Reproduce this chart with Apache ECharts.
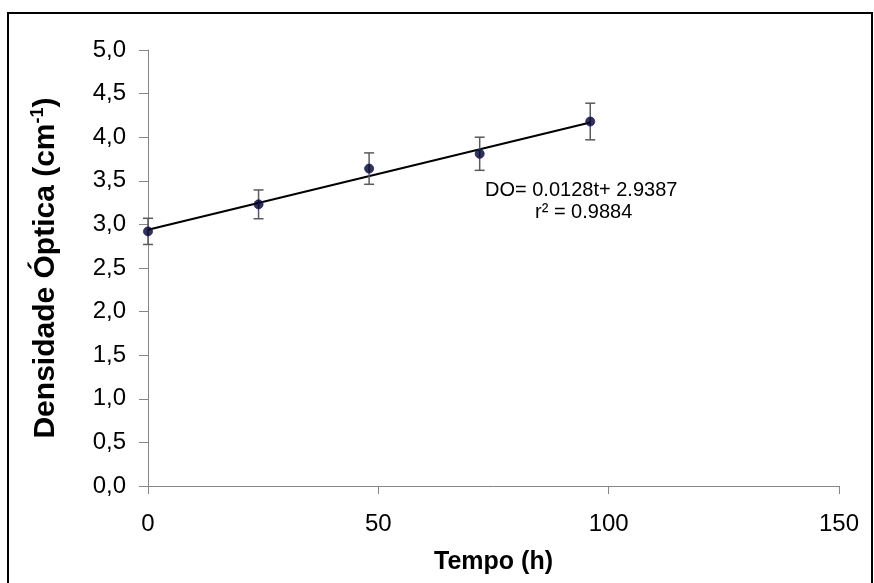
<!DOCTYPE html>
<html>
<head>
<meta charset="utf-8">
<script src="https://cdn.jsdelivr.net/npm/echarts@6/dist/echarts.min.js"></script>
<style>
  html, body { margin: 0; padding: 0; background: #fff; }
  #main { width: 874px; height: 583px; }
</style>
</head>
<body>
<div id="main"></div>
<script>
// dados
var tempo = [0, 24, 48, 72, 96];
var densidade = [2.92, 3.23, 3.64, 3.81, 4.18];
var erro = [0.15, 0.165, 0.18, 0.19, 0.21];
// regressao linear DO = a*t + b
var coefA = 0.0128;
var coefB = 2.9387;
var textoEq = 'DO= 0.0128t+ 2.9387';
var textoR2 = 'r² = 0.9884';

var pontos = tempo.map(function (t, i) { return [t, densidade[i]]; });
var barras = tempo.map(function (t, i) { return [t, densidade[i] - erro[i], densidade[i] + erro[i]]; });
var tFim = tempo[tempo.length - 1];
var reta = [[0, coefB], [tFim, coefA * tFim + coefB]];

var fonte = 'Arial, "Liberation Sans", sans-serif';
var myChart = echarts.init(document.getElementById('main'));

var option = {
  backgroundColor: '#fff',
  animation: false,
  grid: { left: 148, right: 35, top: 50, bottom: 97 },
  xAxis: {
    type: 'value',
    min: 0,
    max: 150,
    interval: 50,
    name: 'Tempo (h)',
    nameLocation: 'middle',
    nameGap: 64,
    nameTextStyle: { fontFamily: fonte, fontSize: 25, fontWeight: 'bold', color: '#000' },
    axisLine: { lineStyle: { color: '#868686', width: 1 } },
    axisTick: { inside: false, length: 8, lineStyle: { color: '#868686' } },
    axisLabel: { fontFamily: fonte, fontSize: 24, color: '#000', margin: 26 },
    splitLine: { show: false }
  },
  yAxis: {
    type: 'value',
    min: 0,
    max: 5,
    interval: 0.5,
    name: 'Densidade Óptica (cm{sup|-1})',
    nameLocation: 'middle',
    nameRotate: 90,
    nameGap: 86,
    nameTextStyle: {
      fontFamily: fonte, fontSize: 30, fontWeight: 'bold', color: '#000',
      rich: {
        sup: { fontFamily: fonte, fontSize: 18, fontWeight: 'bold', color: '#000', padding: [0, 0, 15, 0] }
      }
    },
    axisLine: { show: true, lineStyle: { color: '#868686', width: 1 } },
    axisTick: { show: true, inside: false, length: 9, lineStyle: { color: '#868686' } },
    axisLabel: {
      fontFamily: fonte, fontSize: 24, color: '#000', margin: 22,
      formatter: function (v) { return v.toFixed(1).replace('.', ','); }
    },
    splitLine: { show: false }
  },
  graphic: [
    {
      type: 'rect',
      shape: { x: 8, y: 13, width: 864, height: 620 },
      style: { fill: 'none', stroke: '#000', lineWidth: 2 },
      silent: true
    },
    {
      type: 'text',
      left: 485,
      top: 180,
      style: { text: textoEq, font: '20px ' + fonte, fill: '#000' }
    },
    {
      type: 'text',
      left: 535,
      top: 202,
      style: { text: textoR2, font: '20px ' + fonte, fill: '#000' }
    }
  ],
  series: [
    {
      name: 'Regressao',
      type: 'line',
      data: reta,
      symbol: 'none',
      lineStyle: { color: '#000', width: 2 },
      z: 2
    },
    {
      name: 'Erro',
      type: 'custom',
      data: barras,
      z: 3,
      renderItem: function (params, api) {
        var x = api.value(0);
        var baixo = api.coord([x, api.value(1)]);
        var alto = api.coord([x, api.value(2)]);
        var meia = 5;
        var estilo = { stroke: '#5a5a5a', lineWidth: 1.5 };
        return {
          type: 'group',
          children: [
            { type: 'line', shape: { x1: baixo[0], y1: baixo[1], x2: alto[0], y2: alto[1] }, style: estilo },
            { type: 'line', shape: { x1: alto[0] - meia, y1: alto[1], x2: alto[0] + meia, y2: alto[1] }, style: estilo },
            { type: 'line', shape: { x1: baixo[0] - meia, y1: baixo[1], x2: baixo[0] + meia, y2: baixo[1] }, style: estilo }
          ]
        };
      }
    },
    {
      name: 'Densidade',
      type: 'scatter',
      data: pontos,
      symbol: 'circle',
      symbolSize: 9,
      itemStyle: { color: '#00002a', borderColor: '#1a1a66', borderWidth: 1 },
      z: 4
    }
  ]
};

myChart.setOption(option);
</script>
</body>
</html>
